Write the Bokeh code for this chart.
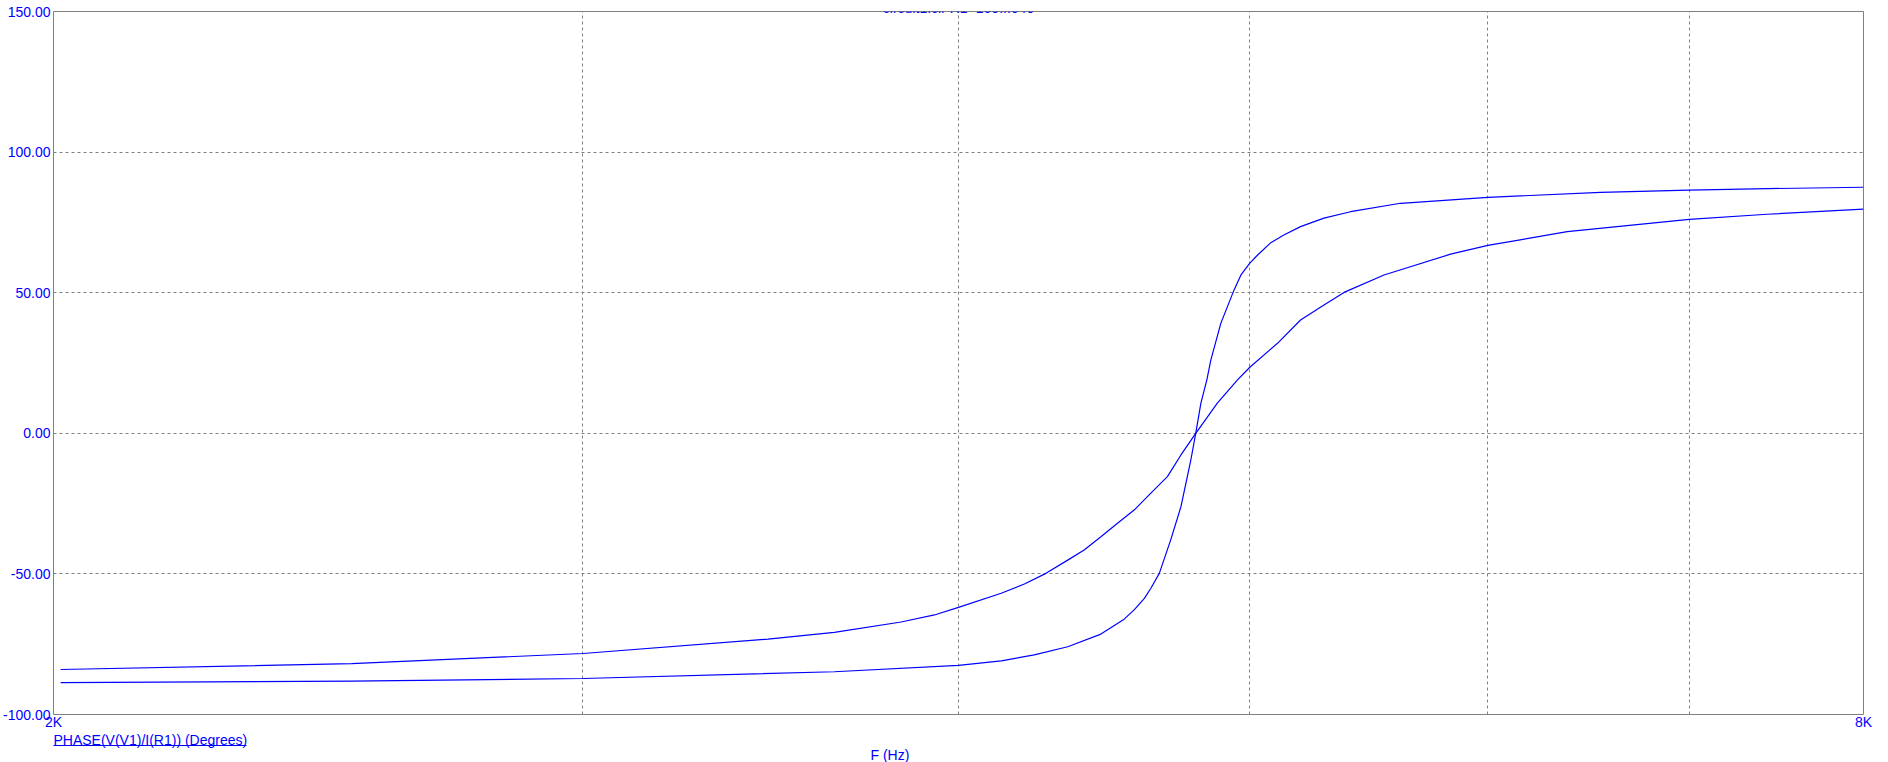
from bokeh.plotting import figure
from bokeh.models import Range1d, FixedTicker, NumeralTickFormatter, Label, Title, LogAxis
from bokeh.embed import file_html
from bokeh.resources import INLINE

# ---- data (frequency in Hz, phase in degrees) ----
freq_r160 = [2011, 2513, 3000, 3637, 4000, 4133, 4239, 4349, 4461, 4541, 4576, 4612,
             4635, 4665, 4706, 4743, 4779, 4797, 4816, 4838, 4853, 4890, 4940, 4966,
             5000, 5030, 5081, 5132, 5198, 5292, 5401, 5612, 6000, 6541, 7000, 7431, 8000]
phase_r160 = [-88.7, -88.1, -87.2, -84.8, -82.5, -80.9, -78.8, -75.9, -71.4, -66.1, -62.8, -58.7,
              -55.1, -49.8, -37.9, -26.1, -9.5, 0.0, 10.7, 19.0, 26.1, 39.1, 51.0, 56.3,
              60.5, 63.4, 67.8, 70.5, 73.5, 76.5, 78.8, 81.8, 83.9, 85.7, 86.5, 87.0, 87.5]

freq_r640 = [2011, 2513, 3000, 3457, 3637, 3828, 3927, 4000, 4133, 4207, 4277, 4349,
             4404, 4461, 4518, 4576, 4635, 4694, 4743, 4797, 4877, 4953, 5000, 5107,
             5198, 5292, 5374, 5541, 5831, 6000, 6376, 7000, 7431, 8000]
phase_r640 = [-84.0, -81.9, -78.3, -73.2, -70.8, -67.1, -64.6, -61.9, -56.9, -53.6, -49.8, -45.1,
              -41.5, -36.8, -32.0, -27.3, -21.3, -15.4, -7.7, 0.0, 10.7, 19.0, 23.5, 32.0,
              40.3, 45.6, 50.1, 56.3, 63.7, 66.8, 71.7, 76.1, 77.9, 79.7]

y_ticks = [-100, -50, 0, 50, 100, 150]
x_grid = [3000, 4000, 5000, 6000, 7000]
x_range_hz = [2000, 8000]
x_tick_labels = ["2K", "8K"]
title_text = "circuit1.cir R1=160...640"
y_title = "PHASE(V(V1)/I(R1)) (Degrees)"
x_title = "F (Hz)"

FONT = "Liberation Sans"
FSIZE = "14px"
BLUE = "#0000ff"
GRAY = "#808080"

p = figure(width=1888, height=762, x_axis_type="log",
           x_range=Range1d(*x_range_hz), y_range=Range1d(y_ticks[0], y_ticks[-1]),
           output_backend="svg", toolbar_location=None,
           min_border_left=52, min_border_right=25, min_border_top=11, min_border_bottom=10)

p.background_fill_color = "white"
p.border_fill_color = "white"
p.outline_line_color = GRAY
p.outline_line_width = 1

# x axis: only the two end labels
p.xaxis.ticker = FixedTicker(ticks=x_range_hz, minor_ticks=[])
p.xaxis.major_label_overrides = dict(zip(x_range_hz, x_tick_labels))
p.xaxis.axis_line_color = None
p.xaxis.major_tick_line_color = None
p.xaxis.minor_tick_line_color = None
p.xaxis.major_tick_out = 0
p.xaxis.major_label_standoff = -1
p.xaxis.major_label_text_font = FONT
p.xaxis.major_label_text_font_size = FSIZE
p.xaxis.major_label_text_color = BLUE

# y axis
p.yaxis.ticker = FixedTicker(ticks=y_ticks, minor_ticks=[])
p.yaxis.formatter = NumeralTickFormatter(format="0.00")
p.yaxis.axis_line_color = None
p.yaxis.major_tick_line_color = None
p.yaxis.minor_tick_line_color = None
p.yaxis.major_tick_out = 0
p.yaxis.major_label_standoff = 3
p.yaxis.major_label_text_font = FONT
p.yaxis.major_label_text_font_size = FSIZE
p.yaxis.major_label_text_color = BLUE

# grids
for g in (p.xgrid, p.ygrid):
    g.grid_line_color = GRAY
    g.grid_line_dash = "3 3"
    g.grid_line_width = 1
p.xgrid.ticker = FixedTicker(ticks=x_grid, minor_ticks=[])
p.ygrid.ticker = FixedTicker(ticks=y_ticks, minor_ticks=[])

# curves
p.line(freq_r160, phase_r160, line_color=BLUE, line_width=1.2)
p.line(freq_r640, phase_r640, line_color=BLUE, line_width=1.2)

# texts below the plot (stacked under the x axis)
p.add_layout(Title(text=y_title, align="left", offset=0, standoff=-5,
                   text_font=FONT, text_font_size=FSIZE, text_font_style="normal",
                   text_color=BLUE), "below")

# underline of the trace name: an axis line limited to the text's width
underline = LogAxis(bounds=(2000, 2319), ticker=FixedTicker(ticks=[], minor_ticks=[]),
                    axis_line_color=BLUE, axis_line_width=1,
                    major_tick_line_color=None, minor_tick_line_color=None,
                    major_tick_out=0, major_tick_in=0, minor_tick_out=0, minor_tick_in=0,
                    major_label_text_font_size="0px", major_label_standoff=0)
p.add_layout(underline, "below")

p.add_layout(Title(text=x_title, align="left", offset=817, standoff=-1,
                   text_font=FONT, text_font_size=FSIZE, text_font_style="normal",
                   text_color=BLUE), "below")

# run title, partly above the top edge as in the reference
p.add_layout(Label(x=4000, y=y_ticks[-1], text=title_text, text_align="center",
                   text_baseline="alphabetic", y_offset=4, text_font=FONT,
                   text_font_size=FSIZE, text_color=BLUE))

open("out.html", "w").write(file_html(p, INLINE))
